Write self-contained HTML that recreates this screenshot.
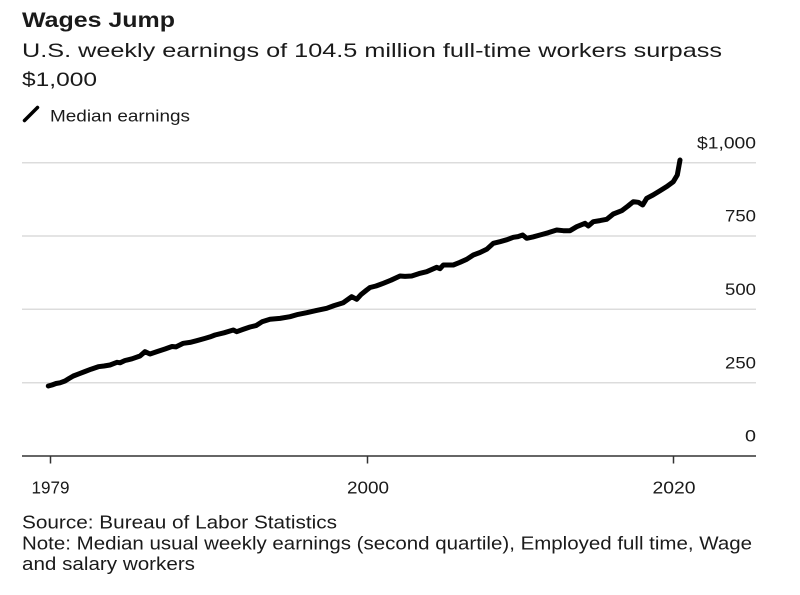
<!DOCTYPE html>
<html>
<head>
<meta charset="utf-8">
<style>
  html, body { margin: 0; padding: 0; background: #ffffff; }
  svg { display: block; }
  text { font-family: "Liberation Sans", Arial, sans-serif; fill: #1a1a1a; }
</style>
</head>
<body>
<svg width="800" height="595" viewBox="0 0 800 595" xmlns="http://www.w3.org/2000/svg">
  <rect x="0" y="0" width="800" height="595" fill="#ffffff"/>

  <!-- Title & subtitle -->
  <text x="22" y="27" font-size="21.5" font-weight="bold" fill="#111" textLength="153" lengthAdjust="spacingAndGlyphs">Wages Jump</text>
  <text x="22" y="57" font-size="19.5" textLength="700" lengthAdjust="spacingAndGlyphs">U.S. weekly earnings of 104.5 million full-time workers surpass</text>
  <text x="22" y="86" font-size="19.5" textLength="75" lengthAdjust="spacingAndGlyphs">$1,000</text>

  <!-- Legend -->
  <line x1="24.5" y1="120.5" x2="37.5" y2="107.5" stroke="#000" stroke-width="3.5" stroke-linecap="round"/>
  <text x="50" y="121.7" font-size="17" textLength="140" lengthAdjust="spacingAndGlyphs">Median earnings</text>

  <!-- Gridlines -->
  <g stroke="#dcdcdc" stroke-width="1.5">
    <line x1="22" y1="162.7" x2="756" y2="162.7"/>
    <line x1="22" y1="236" x2="756" y2="236"/>
    <line x1="22" y1="309.3" x2="756" y2="309.3"/>
    <line x1="22" y1="382.7" x2="756" y2="382.7"/>
  </g>
  <!-- Baseline -->
  <line x1="22" y1="456" x2="756" y2="456" stroke="#333" stroke-width="1.5"/>
  <!-- Ticks -->
  <g stroke="#333" stroke-width="1.5">
    <line x1="50.5" y1="456" x2="50.5" y2="463.5"/>
    <line x1="367.5" y1="456" x2="367.5" y2="463.5"/>
    <line x1="673.5" y1="456" x2="673.5" y2="463.5"/>
  </g>

  <!-- Y labels -->
  <g font-size="17" text-anchor="end">
    <text x="756" y="148.3" textLength="59" lengthAdjust="spacingAndGlyphs">$1,000</text>
    <text x="756" y="221.7" textLength="31" lengthAdjust="spacingAndGlyphs">750</text>
    <text x="756" y="295" textLength="31" lengthAdjust="spacingAndGlyphs">500</text>
    <text x="756" y="368.3" textLength="31" lengthAdjust="spacingAndGlyphs">250</text>
    <text x="756" y="441.5" textLength="11" lengthAdjust="spacingAndGlyphs">0</text>
  </g>

  <!-- X labels -->
  <g font-size="17.5" text-anchor="middle">
    <text x="50.5" y="493.3" textLength="38" lengthAdjust="spacingAndGlyphs">1979</text>
    <text x="368" y="493.3" textLength="42" lengthAdjust="spacingAndGlyphs">2000</text>
    <text x="674" y="493.3" textLength="43" lengthAdjust="spacingAndGlyphs">2020</text>
  </g>

  <!-- Data line -->
  <polyline fill="none" stroke="#000" stroke-width="5" stroke-linejoin="round" stroke-linecap="round"
    points="48.3,386 52,385 56,383.5 60,382.8 65,381 69,378.5 73.3,376 79,373.8 85,371.5 91,369.2 98.3,366.7 104,366 110,365 117,362.3 120,362.8 125,360.5 132,358.8 140,356 145,351.7 150,354 157,351.6 165,349 172,346.5 176,346.9 183.3,343.3 190,342.4 196.7,340.7 205,338.4 210,336.9 215,335 224,332.8 233.3,330 236.7,331.7 243,329.4 250,327 256,325.6 262,321.8 270,319.3 280,318.4 290,316.7 298,314.4 306.7,312.7 316,310.6 326.7,308.3 334,305.6 343.3,302.7 351.7,296.7 356.7,299.3 361,294.6 366.7,290 370,287.5 376,286 383.3,283.3 391,280.2 400,276 405,276.4 411.7,276 419,273.6 426.7,271.7 436.7,267.3 440,268.7 443.3,265 453.3,265 460,262.3 466.7,259.3 473.3,255 480,252.5 486.7,249.3 493.3,243.3 500,241.7 507,239.7 513.3,237.3 518,236.6 522.7,235 526.7,238.3 533,236.9 540,235 548,232.8 556.7,230 563.3,230.7 570,230.7 576.7,226.7 585,223.3 588.3,226 593.3,221.7 600,220.6 606.7,219.3 613.3,214 621.7,210.7 628,206 633.3,201.7 638.3,202.3 642.7,205 646.7,198.3 653,195 660,190.7 667,186.4 673.3,181.7 677.3,175 680,160"/>

  <!-- Footer -->
  <g font-size="18">
    <text x="22" y="528.3" textLength="315" lengthAdjust="spacingAndGlyphs">Source: Bureau of Labor Statistics</text>
    <text x="22" y="549.3" textLength="730" lengthAdjust="spacingAndGlyphs">Note: Median usual weekly earnings (second quartile), Employed full time, Wage</text>
    <text x="22" y="570" textLength="173" lengthAdjust="spacingAndGlyphs">and salary workers</text>
  </g>
</svg>
</body>
</html>
